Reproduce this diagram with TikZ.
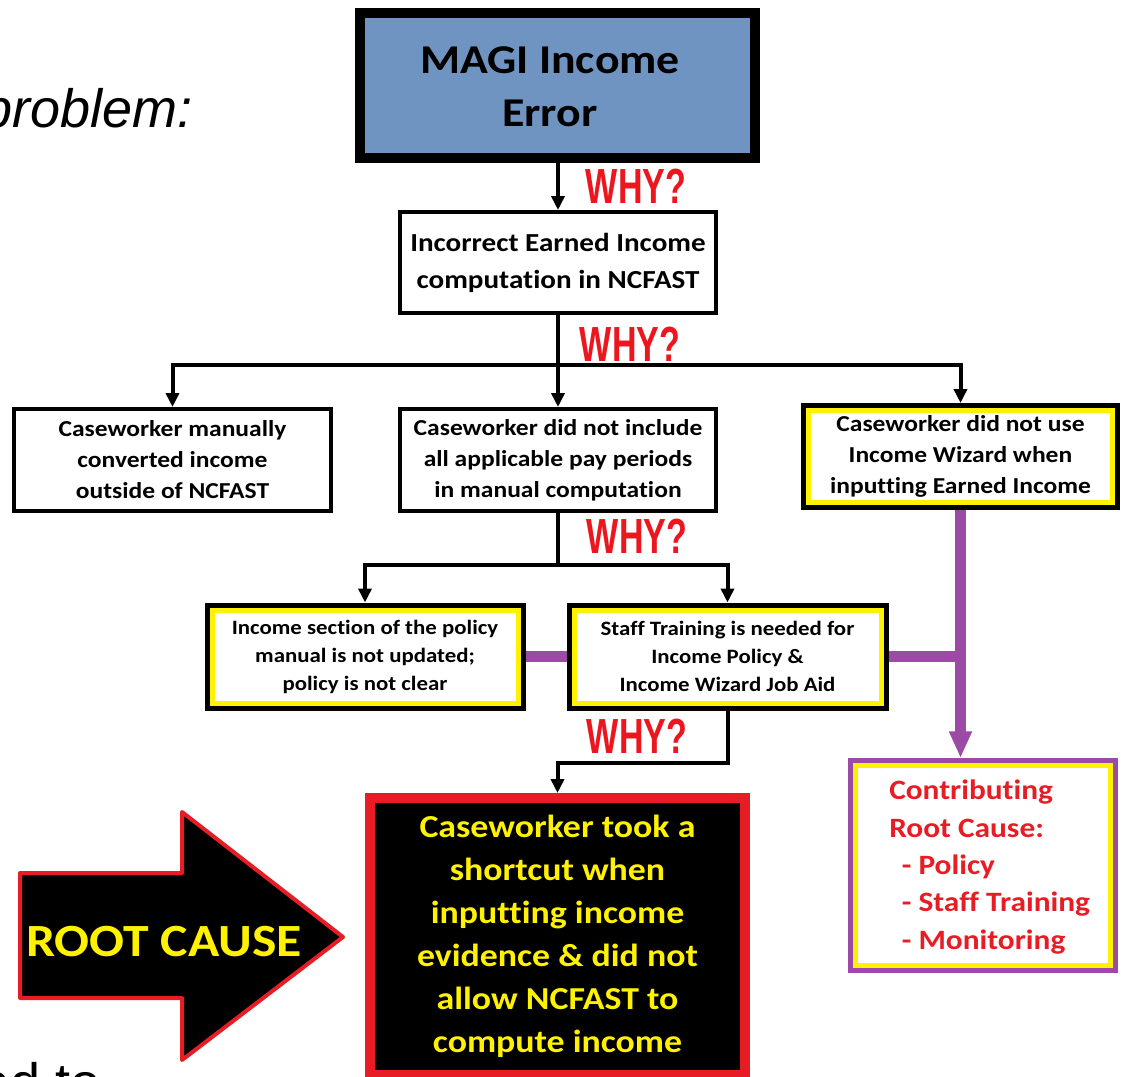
\documentclass[tikz,border=0pt]{standalone}
\usepackage{fontspec}
\usetikzlibrary{arrows.meta}
\newfontfamily\calf[FakeStretch=1.12,Ligatures=NoCommon]{Carlito}
\newfontfamily\arialf{Liberation Sans}
\newfontfamily\whyfont[FakeStretch=0.69]{Liberation Sans}
\definecolor{magiblue}{RGB}{112,148,193}
\definecolor{ylw}{RGB}{255,242,0}
\definecolor{purp}{RGB}{155,75,165}
\definecolor{rd}{RGB}{232,28,36}
\definecolor{whyred}{RGB}{236,22,30}
\begin{document}
\begin{tikzpicture}[x=0.75pt,y=-0.75pt,
  box/.style={draw=black, line width=3pt, fill=white, inner sep=0pt, align=center,
    font=\calf\bfseries\fontsize{17.1pt}{23.25pt}\selectfont},
  ybox/.style={box, line width=3.75pt,
    path picture={\draw[ylw,line width=11.25pt] (path picture bounding box.north west) rectangle (path picture bounding box.south east);}},
  smallfont/.style={font=\calf\bfseries\fontsize{15.3pt}{21pt}\selectfont},
  why/.style={text=whyred, inner sep=0pt, font=\whyfont\bfseries\fontsize{37pt}{40pt}\selectfont},
  conn/.style={draw=black, line width=3pt},
  arr/.style={conn, -{Triangle[length=10.5pt,width=9.75pt]}},
  purpline/.style={draw=purp, line width=8.25pt},
  purparr/.style={purpline, -{Triangle[length=20pt,width=16pt]}}
]
\clip (0,0) rectangle (1122,1076);
\useasboundingbox (0,0) rectangle (1122,1076);
\fill[white] (0,0) rectangle (1122,1076);

% side texts
\node[anchor=base west, inner sep=0pt, font=\arialf\itshape\fontsize{40.5pt}{48pt}\selectfont] (problem) at (-18,127) {problem:};
\node[anchor=base west, inner sep=0pt, font=\arialf\fontsize{40.5pt}{48pt}\selectfont] (adto) at (-20,1101) {ad to};

% main boxes
\node[box, line width=7.5pt, fill=magiblue, minimum width=296.25pt, minimum height=108.75pt] (magi) at (557.5,85.5) {};
\node[inner sep=0pt, align=center, font=\calf\bfseries\fontsize{30.7pt}{39.75pt}\selectfont] (magitext) at (550,87) {MAGI Income\\Error};
\node[box, minimum width=237pt, minimum height=75.75pt,
  font=\calf\bfseries\fontsize{19.5pt}{27.75pt}\selectfont] (box2) at (558,262.5) {Incorrect Earned Income\\computation in NCFAST};
\node[box, minimum width=237.75pt, minimum height=76.5pt] (box3) at (172.5,460) {Caseworker manually\\converted income\\outside of NCFAST};
\node[box, minimum width=237pt, minimum height=76.5pt] (box4) at (558,460) {Caseworker did not include\\all applicable pay periods\\in manual computation};
\node[ybox, minimum width=235.5pt, minimum height=76.5pt] (box5) at (960.5,456.5) {Caseworker did not use\\Income Wizard when\\inputting Earned Income};
\node[ybox, smallfont, minimum width=237pt, minimum height=77.25pt] (box6) at (365,656.5) {Income section of the policy\\manual is not updated;\\policy is not clear};
\node[ybox, smallfont, minimum width=237.75pt, minimum height=77.25pt] (box7) at (727.5,656.5) {Staff Training is needed for\\Income Policy \&\\Income Wizard Job Aid};
\node[box, draw=purp, line width=3.75pt, minimum width=198.75pt, minimum height=157.5pt,
  path picture={\draw[ylw,line width=11pt] (path picture bounding box.north west) rectangle (path picture bounding box.south east);}] (contrib) at (983,865.5) {};
\node[anchor=north west, inner sep=0pt, align=left, text=rd,
  font=\calf\bfseries\fontsize{21pt}{28pt}\selectfont] (contribtext) at (889,780)
  {Contributing\\Root Cause:\\\hspace*{0.45em}- Policy\\\hspace*{0.45em}- Staff Training\\\hspace*{0.45em}- Monitoring};
\node[box, draw=rd, line width=7.5pt, fill=black, text=ylw, minimum width=281.25pt, minimum height=207.75pt,
  font=\calf\bfseries\fontsize{24pt}{32.25pt}\selectfont] (root) at (557.5,936.5)
  {Caseworker took a\\shortcut when\\inputting income\\evidence \& did not\\allow NCFAST to\\compute income};

% ROOT CAUSE arrow
\draw[draw=rd, fill=black, line width=3pt, line join=round]
  (20,873) -- (182,873) -- (182,812) -- (343,937) -- (182,1060) -- (182,998) -- (20,998) -- cycle;
\node[inner sep=0pt, text=ylw, font=\calf\bfseries\fontsize{34.6pt}{40pt}\selectfont] (rctext) at (164,942) {ROOT CAUSE};

% connectors
\coordinate (f1) at (558,365);
\coordinate (f2) at (558,565);
\coordinate (f3) at (727.5,763);
\draw[arr] (box2.north |- magi.south) -- (box2.north);
\draw[conn] (box2.south) -- (f1);
\draw[arr] (f1) -| (box3.north);
\draw[arr] (f1) -| (box5.north);
\draw[arr] (f1) -- (box4.north);
\draw[conn] (box4.south) -- (f2);
\draw[arr] (f2) -| (box6.north);
\draw[arr] (f2) -| (box7.north);
\draw[arr] (box7.south) -- (f3) -| (root.north);

\draw[purpline] (box6.east) -- (box7.west);
\draw[purpline] (box7.east) -- (box5.south |- box7.east);
\draw[purparr] (box5.south) -- (box5.south |- contrib.north);

% WHY labels
\node[why] (why1) at (636,186) {WHY?};
\node[why] (why2) at (630,344) {WHY?};
\node[why] (why3) at (637,536) {WHY?};
\node[why] (why4) at (637,736) {WHY?};
\end{tikzpicture}
\end{document}
